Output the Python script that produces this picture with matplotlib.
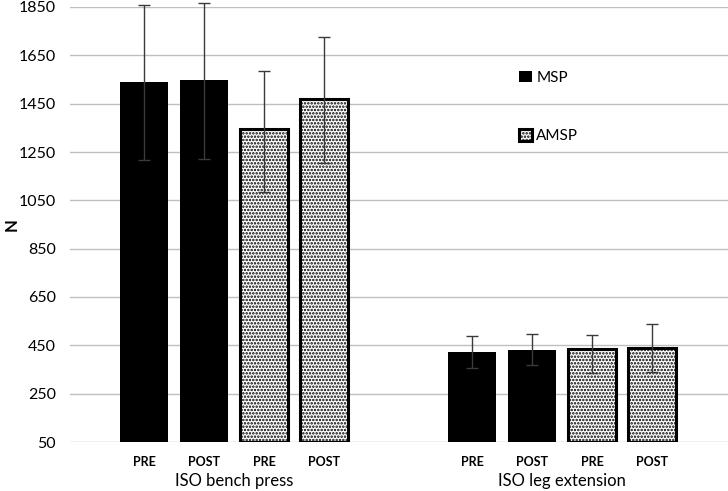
import numpy as np
import matplotlib.pyplot as plt
import matplotlib as mpl

# =========================
# DATA
# =========================
groups = ["ISO bench press", "ISO leg extension"]
phases = ["PRE", "POST"]
conditions = ["MSP", "AMSP"]

# mean (N) per group: MSP PRE, MSP POST, AMSP PRE, AMSP POST
means = {
    "ISO bench press": [1538, 1546, 1347, 1468],
    "ISO leg extension": [421, 432, 434, 440],
}
err_low = {
    "ISO bench press": [320, 324, 264, 264],
    "ISO leg extension": [66, 63, 100, 99],
}
err_high = {
    "ISO bench press": [319, 322, 238, 259],
    "ISO leg extension": [68, 64, 60, 98],
}

y_ticks = [50, 250, 450, 650, 850, 1050, 1250, 1450, 1650, 1850]

# =========================
# STYLE
# =========================
plt.rcParams["font.family"] = ["Lato", "DejaVu Sans"]
mpl.rcParams["hatch.linewidth"] = 1.2

fig = plt.figure(figsize=(7.28, 4.91), dpi=100)
ax = fig.add_axes([70 / 728, 49 / 491, 658 / 728, 435 / 491])

GROUP_STEP = 5.467
bar_w = 0.8

tick_pos = []
tick_lab = []
for gi, g in enumerate(groups):
    pos = gi * GROUP_STEP + np.arange(4)
    for k in range(4):
        cond = conditions[k // 2]
        if cond == "MSP":
            kw = dict(color="black", edgecolor="black", linewidth=0)
        else:
            kw = dict(facecolor="white", edgecolor="black", linewidth=2.2, hatch=".....")
        ax.bar(pos[k], means[g][k] - 50, bottom=50, width=bar_w, zorder=2,
               label=cond if (gi == 0 and k % 2 == 0) else None, **kw)
        eb = ax.errorbar(pos[k], means[g][k],
                         yerr=[[err_low[g][k]], [err_high[g][k]]],
                         fmt="none", ecolor="#3a3a3a", elinewidth=1.0, capsize=4,
                         capthick=1.0, zorder=3)
        for art in eb.lines[1] + eb.lines[2]:
            art.set_clip_on(False)
        tick_pos.append(pos[k])
        tick_lab.append(phases[k % 2])
    ax.text(pos.mean(), -0.09, g, transform=ax.get_xaxis_transform(),
            ha="center", va="center", fontsize=12)

ax.set_xlim(-1.233, -1.233 + 658 / 60)
ax.set_ylim(50, 1850)
ax.set_yticks(y_ticks)
ax.set_xticks(tick_pos)
ax.set_xticklabels(tick_lab, fontsize=9, fontweight="bold")
ax.tick_params(axis="x", length=0, pad=10)
ax.tick_params(axis="y", length=0, pad=10, labelsize=11.5)
ax.yaxis.grid(True, color="#bfbfbf", linewidth=1.0, zorder=0)
ax.set_axisbelow(True)
for s in ax.spines.values():
    s.set_visible(False)

ax.set_ylabel("N", fontsize=12, fontweight="bold")
ax.yaxis.set_label_coords(-0.077, 0.5)

leg = ax.legend(loc="upper left", bbox_to_anchor=(0.662, 0.885), frameon=False,
                fontsize=11, handlelength=0.8, handleheight=0.8,
                handletextpad=0.3, labelspacing=2.9)

fig.savefig("out.png", dpi=100)
